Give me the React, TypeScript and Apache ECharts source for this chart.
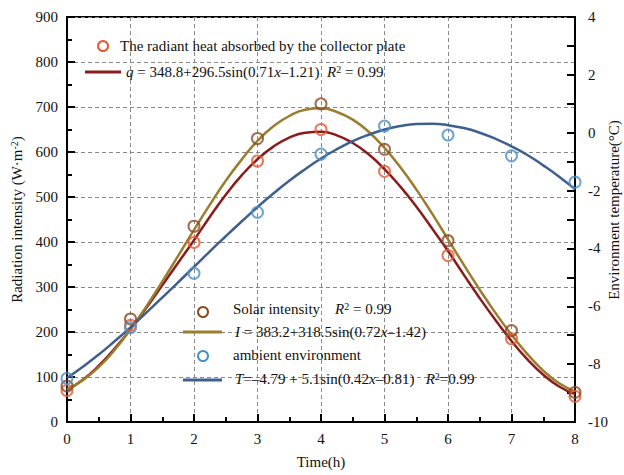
import React, { useEffect, useRef } from "react";
import * as echarts from "echarts";

const hours = [0, 1, 2, 3, 4, 5, 6, 7, 8];
const collectorHeat = [70, 215, 399, 580, 650, 557, 370, 185, 57];
const solarIntensity = [80, 229, 435, 630, 707, 606, 403, 203, 66];
const ambientTemp = [-8.49, -6.74, -4.86, -2.75, -0.74, 0.23, -0.08, -0.8, -1.71];

const fitHours = [
  0, 0.25, 0.5, 0.75, 1, 1.25, 1.5, 1.75, 2, 2.25, 2.5, 2.75, 3, 3.25, 3.5, 3.75, 4,
  4.25, 4.5, 4.75, 5, 5.25, 5.5, 5.75, 6, 6.25, 6.5, 6.75, 7, 7.25, 7.5, 7.75, 8,
];
const collectorFit = [
  71, 94, 125, 163, 206, 254, 304, 354, 404, 456, 505, 548, 584, 612, 632, 643, 645,
  637, 620, 595, 562, 523, 479, 430, 380, 327, 275, 226, 180, 139, 105, 79, 62,
];
const solarFit = [
  73, 93, 122, 160, 206, 257, 312, 369, 427, 483, 536, 583, 625, 657, 680, 694, 697,
  689, 672, 645, 609, 566, 517, 463, 406, 349, 294, 242, 194, 151, 114, 86, 68,
];
const ambientFit = [
  -8.48, -8.09, -7.67, -7.21, -6.73, -6.22, -5.7, -5.17, -4.64, -4.1, -3.58, -3.07, -2.57, -2.1, -1.66, -1.26, -0.89,
  -0.57, -0.29, -0.07, 0.11, 0.23, 0.3, 0.31, 0.26, 0.16, 0.0, -0.21, -0.47, -0.77, -1.13, -1.52, -1.95,
];

const xTicks = [0, 8, 1];
const leftTicks = [0, 900, 100];
const rightTicks = [-10, 4, 2];

const FONT = "'Liberation Serif', 'Times New Roman', serif";
const C_COLLECTOR = "#E9582E";
const C_SOLAR_PT = "#8A4B24";
const C_AMB_PT = "#4A90C8";
const C_COLLECTOR_LINE = "#8B1C1C";
const C_SOLAR_LINE = "#9A7D2E";
const C_AMB_LINE = "#3E5F8F";

const rich = {
  i: { fontStyle: "italic", fontFamily: FONT, fontSize: 15, fill: "#111" },
  s: { fontSize: 10, fontFamily: FONT, verticalAlign: "top", fill: "#111" },
};

function pairs(xs: number[], ys: number[]) {
  return xs.map((x, k) => [x, ys[k]]);
}

function txt(x: number, y: number, text: string) {
  return {
    type: "text",
    x,
    y,
    z: 100,
    style: {
      text,
      fontFamily: FONT,
      fontSize: 15,
      fill: "#111",
      verticalAlign: "middle",
      rich,
    },
  };
}
function circ(cx: number, cy: number, color: string) {
  return {
    type: "circle",
    z: 100,
    shape: { cx, cy, r: 5 },
    style: { fill: "none", stroke: color, lineWidth: 2 },
  };
}
function seg(x1: number, x2: number, y: number, color: string) {
  return {
    type: "line",
    z: 100,
    shape: { x1, y1: y, x2, y2: y },
    style: { stroke: color, lineWidth: 3 },
  };
}

export default function App() {
  const ref = useRef<HTMLDivElement>(null);
  useEffect(() => {
    const chart = echarts.init(ref.current!, undefined, { renderer: "svg" });
    const axisLine = { show: true, lineStyle: { color: "#000", width: 2 } };
    const split = { show: true, lineStyle: { color: "#888", type: [4, 3], width: 1 } };
    const tick = { show: true, inside: true, length: 8, lineStyle: { color: "#000", width: 2 } };
    const label = { fontFamily: FONT, fontSize: 15, color: "#111" };
    chart.setOption({
      animation: false,
      backgroundColor: "#fff",
      grid: {
        left: 67,
        right: 49,
        top: 17,
        bottom: 53,
        outerBoundsMode: "none",
        containLabel: false,
        show: true,
        borderColor: "#000",
        borderWidth: 2,
        backgroundColor: "transparent",
      },
      xAxis: {
        type: "value",
        min: xTicks[0],
        max: xTicks[1],
        interval: xTicks[2],
        name: "Time(h)",
        nameLocation: "middle",
        nameGap: 32,
        nameTextStyle: label,
        axisLine,
        axisTick: tick,
        minorTick: { show: true, splitNumber: 2, length: 5, lineStyle: { color: "#000", width: 2 } },
        axisLabel: { ...label, margin: 9 },
        splitLine: split,
      },
      yAxis: [
        {
          type: "value",
          min: leftTicks[0],
          max: leftTicks[1],
          interval: leftTicks[2],
          name: "Radiation intensity (W·m{s|-2})",
          nameLocation: "middle",
          nameGap: 42,
          nameTextStyle: {
            ...label,
            rich: { s: { fontFamily: FONT, fontSize: 10, verticalAlign: "top", color: "#111" } },
          },
          axisLine,
          axisTick: tick,
          minorTick: { show: true, splitNumber: 2, length: 5, lineStyle: { color: "#000", width: 2 } },
          axisLabel: { ...label, margin: 9 },
          splitLine: split,
        },
        {
          type: "value",
          position: "right",
          min: rightTicks[0],
          max: rightTicks[1],
          interval: rightTicks[2],
          axisLine,
          axisTick: tick,
          minorTick: { show: true, splitNumber: 2, length: 8, lineStyle: { color: "#000", width: 2 } },
          axisLabel: { ...label, margin: 13 },
          splitLine: { show: false },
        },
      ],
      series: [
        {
          name: "q fit",
          type: "line",
          smooth: true,
          showSymbol: false,
          data: pairs(fitHours, collectorFit),
          lineStyle: { color: C_COLLECTOR_LINE, width: 2.5 },
          itemStyle: { color: C_COLLECTOR_LINE },
          z: 3,
        },
        {
          name: "I fit",
          type: "line",
          smooth: true,
          showSymbol: false,
          data: pairs(fitHours, solarFit),
          lineStyle: { color: C_SOLAR_LINE, width: 2.5 },
          itemStyle: { color: C_SOLAR_LINE },
          z: 3,
        },
        {
          name: "T fit",
          type: "line",
          yAxisIndex: 1,
          smooth: true,
          showSymbol: false,
          data: pairs(fitHours, ambientFit),
          lineStyle: { color: C_AMB_LINE, width: 2.5 },
          itemStyle: { color: C_AMB_LINE },
          z: 3,
        },
        {
          name: "The radiant heat absorbed by the collector plate",
          type: "scatter",
          symbol: "circle",
          symbolSize: 11,
          clip: false,
          data: pairs(hours, collectorHeat),
          itemStyle: { color: "transparent", borderColor: C_COLLECTOR, borderWidth: 2 },
          z: 4,
        },
        {
          name: "Solar intensity",
          type: "scatter",
          symbol: "circle",
          symbolSize: 11,
          clip: false,
          data: pairs(hours, solarIntensity),
          itemStyle: { color: "transparent", borderColor: C_SOLAR_PT, borderWidth: 2 },
          z: 4,
        },
        {
          name: "ambient environment",
          type: "scatter",
          yAxisIndex: 1,
          symbol: "circle",
          symbolSize: 11,
          clip: false,
          data: pairs(hours, ambientTemp),
          itemStyle: { color: "transparent", borderColor: C_AMB_PT, borderWidth: 2 },
          z: 4,
        },
      ],
      graphic: [
        {
          type: "text",
          x: 614,
          y: 210,
          rotation: Math.PI / 2,
          z: 100,
          style: {
            text: "Environment temperature(°C)",
            fontFamily: FONT,
            fontSize: 15,
            fill: "#111",
            align: "center",
            verticalAlign: "middle",
          },
        },
        circ(103, 46, C_COLLECTOR),
        txt(120, 46, "The radiant heat absorbed by the collector plate"),
        seg(85, 121, 72, C_COLLECTOR_LINE),
        txt(126, 72, "{i|q} = 348.8+296.5sin(0.71{i|x}–1.21)  {i|R}{s|2} = 0.99"),
        circ(203, 312, C_SOLAR_PT),
        txt(233, 309, "Solar intensity    {i|R}{s|2} = 0.99"),
        seg(183, 222, 332, C_SOLAR_LINE),
        txt(235, 332, "{i|I} = 383.2+318.5sin(0.72{i|x}–1.42)"),
        circ(203, 356, C_AMB_PT),
        txt(233, 355, "ambient environment"),
        seg(183, 222, 380, C_AMB_LINE),
        txt(235, 379, "{i|T}=–4.79 + 5.1sin(0.42{i|x}–0.81)   {i|R}{s|2}=0.99"),
      ],
    });
    return () => chart.dispose();
  }, []);
  return <div ref={ref} style={{ width: 624, height: 475, position: "absolute", left: 0, top: 0 }} />;
}
